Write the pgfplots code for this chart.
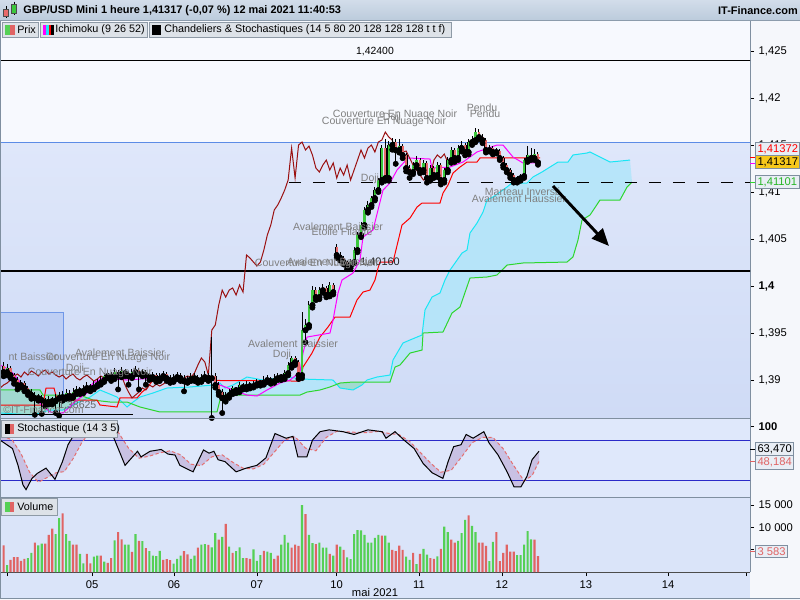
\documentclass[border=0pt]{standalone}
\usepackage{pgfplots}
\pgfplotsset{compat=1.18}
\usepackage{pgfplotstable}
\usetikzlibrary{arrows.meta}
\usepackage{fontspec}
\setmainfont{Liberation Sans}
\definecolor{hdrTop}{HTML}{D2DDEA}
\definecolor{hdrBot}{HTML}{BCCBDC}
\definecolor{hdrLine}{HTML}{8C9CAC}
\definecolor{lgFill}{HTML}{DDE2E8}
\definecolor{lgEdge}{HTML}{8E9AA6}
\definecolor{priceW}{HTML}{F7F9FE}
\definecolor{pTop}{HTML}{DFE7FA}
\definecolor{pBot}{HTML}{CFDBF6}
\definecolor{boxblue}{HTML}{BDCEF4}
\definecolor{boxedge}{HTML}{6F97E8}
\definecolor{stochbg}{HTML}{DFE8FB}
\definecolor{volbg}{HTML}{DAE4F9}
\definecolor{rightbg}{HTML}{F5F7FB}
\definecolor{axisgray}{HTML}{7F8FA0}
\definecolor{candG}{HTML}{3CC83C}
\definecolor{candR}{HTML}{E86A6A}
\definecolor{volG}{HTML}{55D055}
\definecolor{volR}{HTML}{E06464}
\definecolor{tenkan}{HTML}{FF00FF}
\definecolor{kijun}{HTML}{FF0000}
\definecolor{chik}{HTML}{9A1010}
\definecolor{ssa}{HTML}{19E6F5}
\definecolor{ssb}{HTML}{2ED62E}
\definecolor{cloudC}{HTML}{B4E5FA}
\definecolor{cloudG}{HTML}{9FD9CC}
\definecolor{stLine}{HTML}{2B2BC8}
\definecolor{stFill}{HTML}{C9C1E3}
\definecolor{stDc}{HTML}{E56F6F}
\definecolor{annot}{HTML}{808080}
\definecolor{gold}{HTML}{F7C81B}
\definecolor{lblFill}{HTML}{E9EEF5}
\definecolor{refblue}{HTML}{5C8CE6}
\newcommand{\ticksz}{\fontsize{8.4}{10}\selectfont}
\newcommand{\lgsz}{\fontsize{8.1}{9.5}\selectfont}
\newcommand{\ansz}{\fontsize{7.9}{9}\selectfont}

\pgfplotstableread{
i o h l c v g
0 1.39149 1.39190 1.39040 1.39085 5983 0
1 1.39085 1.39170 1.39050 1.39128 1554 1
2 1.39128 1.39150 1.39020 1.39053 2720 0
3 1.39053 1.39080 1.38960 1.39000 3341 0
4 1.39000 1.39030 1.38900 1.38947 3341 0
5 1.38947 1.39000 1.38920 1.38968 2486 0
6 1.38968 1.38990 1.38880 1.38915 2953 0
7 1.38915 1.38940 1.38840 1.38872 3108 1
8 1.38872 1.38900 1.38800 1.38840 4274 1
9 1.38840 1.38870 1.38630 1.38809 6605 0
10 1.38809 1.38850 1.38780 1.38819 5983 1
11 1.38819 1.38840 1.38640 1.38787 6371 1
12 1.38787 1.38810 1.38720 1.38766 6371 0
13 1.38766 1.38830 1.38740 1.38798 8314 0
14 1.38798 1.38820 1.38740 1.38777 9713 0
15 1.38777 1.38850 1.38650 1.38809 8469 1
16 1.38809 1.38870 1.38620 1.38840 12044 1
17 1.38840 1.38880 1.38780 1.38819 13131 0
18 1.38819 1.38900 1.38800 1.38862 8469 1
19 1.38862 1.38890 1.38800 1.38830 6993 1
20 1.38830 1.38910 1.38810 1.38872 6138 0
21 1.38872 1.38940 1.38850 1.38904 6138 0
22 1.38904 1.38930 1.38850 1.38883 4040 1
23 1.38883 1.38950 1.38860 1.38915 1943 1
24 1.38915 1.38980 1.38890 1.38936 4040 0
25 1.38936 1.38960 1.38880 1.38915 1943 0
26 1.38915 1.38990 1.38900 1.38947 3419 1
27 1.38947 1.39010 1.38930 1.38968 3652 1
28 1.38968 1.39040 1.38950 1.39000 3652 0
29 1.39000 1.39080 1.38980 1.39043 2331 1
30 1.39043 1.39110 1.39020 1.39064 2020 0
31 1.39064 1.39090 1.38990 1.39032 3108 0
32 1.39032 1.39130 1.39010 1.39085 7071 1
33 1.39085 1.39110 1.38900 1.39053 8936 0
34 1.39053 1.39140 1.39030 1.39096 7304 0
35 1.39096 1.39120 1.39040 1.39074 6138 1
36 1.39074 1.39100 1.38950 1.39043 6138 1
37 1.39043 1.39120 1.39020 1.39085 4507 0
38 1.39085 1.39150 1.39060 1.39106 8469 1
39 1.39106 1.39130 1.38900 1.39064 6993 0
40 1.39064 1.39120 1.39040 1.39085 6915 1
41 1.39085 1.39110 1.38950 1.39053 5361 0
42 1.39053 1.39080 1.39000 1.39032 4662 1
43 1.39032 1.39090 1.39010 1.39053 3652 1
44 1.39053 1.39080 1.38980 1.39011 3574 1
45 1.39011 1.39070 1.38990 1.39043 4740 1
46 1.39043 1.39100 1.39020 1.39064 2720 0
47 1.39064 1.39090 1.38990 1.39021 2875 0
48 1.39021 1.39050 1.38970 1.39000 2642 0
49 1.39000 1.39060 1.38980 1.39032 1865 1
50 1.39032 1.39090 1.39010 1.39053 2953 1
51 1.39053 1.39080 1.38990 1.39021 3652 1
52 1.39021 1.39050 1.38880 1.38989 4662 0
53 1.38989 1.39040 1.38970 1.39011 3963 0
54 1.39011 1.39070 1.38990 1.39043 2953 1
55 1.39043 1.39070 1.38990 1.39021 3652 1
56 1.39021 1.39050 1.38970 1.39000 5439 0
57 1.39000 1.39060 1.38980 1.39032 6138 1
58 1.39032 1.39100 1.39010 1.39053 6216 1
59 1.39053 1.39080 1.38990 1.39021 6061 0
60 1.39021 1.39457 1.38596 1.39043 5517 1
61 1.39043 1.39070 1.38920 1.38947 8702 1
62 1.38947 1.38980 1.38840 1.38872 7226 0
63 1.38872 1.38900 1.38649 1.38809 7848 1
64 1.38809 1.38870 1.38770 1.38840 10800 0
65 1.38840 1.38900 1.38810 1.38872 5672 1
66 1.38872 1.38940 1.38850 1.38915 4274 0
67 1.38915 1.38930 1.38860 1.38894 4662 1
68 1.38894 1.38980 1.38870 1.38947 5517 1
69 1.38947 1.38970 1.38900 1.38926 3108 1
70 1.38926 1.38990 1.38900 1.38957 3108 0
71 1.38957 1.38980 1.38910 1.38936 2953 0
72 1.38936 1.38990 1.38920 1.38957 5051 1
73 1.38957 1.39010 1.38940 1.38979 2486 1
74 1.38979 1.39000 1.38940 1.38968 3807 1
75 1.38968 1.39040 1.38950 1.39000 4740 0
76 1.39000 1.39050 1.38980 1.39011 4584 1
77 1.39011 1.39030 1.38960 1.38989 4274 1
78 1.38989 1.39060 1.38970 1.39021 2953 0
79 1.39021 1.39080 1.39000 1.39043 3652 0
80 1.39043 1.39060 1.39000 1.39032 6138 1
81 1.39032 1.39110 1.39010 1.39074 8314 1
82 1.39074 1.39190 1.39050 1.39160 6605 1
83 1.39160 1.39260 1.39130 1.39234 5439 0
84 1.39234 1.39260 1.39160 1.39191 6138 0
85 1.39191 1.39210 1.39011 1.39053 5828 0
86 1.39053 1.39723 1.39020 1.39532 14996 1
87 1.39532 1.39650 1.39400 1.39585 12976 0
88 1.39585 1.39840 1.39560 1.39798 8314 1
89 1.39798 1.40000 1.39770 1.39957 6449 1
90 1.39957 1.39990 1.39850 1.39883 6216 0
91 1.39883 1.39990 1.39860 1.39957 6605 1
92 1.39957 1.40020 1.39930 1.39979 5439 1
93 1.39979 1.40000 1.39880 1.39904 5439 1
94 1.39904 1.40040 1.39890 1.40011 4040 0
95 1.40011 1.40030 1.39910 1.39936 3652 1
96 1.40415 1.40450 1.40300 1.40330 6138 0
97 1.40330 1.40360 1.40270 1.40298 5672 1
98 1.40298 1.40320 1.40230 1.40255 4973 0
99 1.40255 1.40270 1.40180 1.40213 3263 1
100 1.40213 1.40290 1.40190 1.40255 2875 1
101 1.40255 1.40410 1.40240 1.40383 8469 1
102 1.40383 1.40570 1.40360 1.40543 9402 1
103 1.40543 1.40680 1.40520 1.40649 9324 1
104 1.40649 1.40840 1.40620 1.40809 8314 1
105 1.40809 1.40900 1.40780 1.40862 6605 1
106 1.40862 1.40960 1.40840 1.40936 6605 1
107 1.40936 1.41050 1.40910 1.41021 7615 1
108 1.41021 1.41150 1.41000 1.41128 8314 1
109 1.41128 1.41500 1.41100 1.41468 8159 0
110 1.41468 1.41560 1.41120 1.41149 8159 1
111 1.41149 1.41540 1.41120 1.41500 6605 1
112 1.41500 1.41580 1.41450 1.41532 4973 0
113 1.41532 1.41560 1.41300 1.41447 4662 0
114 1.41447 1.41560 1.41420 1.41489 5905 0
115 1.41489 1.41510 1.41360 1.41394 4973 0
116 1.41394 1.41420 1.41220 1.41255 3419 1
117 1.41255 1.41290 1.41150 1.41213 2720 1
118 1.41213 1.41320 1.41190 1.41287 4274 0
119 1.41287 1.41380 1.41260 1.41340 1787 1
120 1.41340 1.41360 1.41200 1.41234 4040 0
121 1.41234 1.41340 1.41210 1.41309 5206 1
122 1.41309 1.41330 1.41100 1.41149 3885 1
123 1.41149 1.41290 1.41120 1.41255 3108 0
124 1.41255 1.41280 1.41150 1.41181 2953 0
125 1.41181 1.41320 1.41160 1.41287 3497 1
126 1.41287 1.41310 1.41080 1.41128 5206 0
127 1.41128 1.41260 1.41100 1.41234 10179 1
128 1.41234 1.41370 1.41210 1.41340 8936 1
129 1.41340 1.41480 1.41310 1.41447 7226 0
130 1.41447 1.41470 1.41320 1.41362 6605 0
131 1.41362 1.41500 1.41340 1.41468 6993 1
132 1.41468 1.41540 1.41430 1.41500 8702 1
133 1.41500 1.41520 1.41390 1.41426 11655 1
134 1.41426 1.41560 1.41400 1.41532 12665 0
135 1.41532 1.41600 1.41500 1.41553 10334 1
136 1.41553 1.41680 1.41530 1.41638 8936 1
137 1.41638 1.41670 1.41560 1.41585 6605 0
138 1.41585 1.41620 1.41520 1.41553 6605 0
139 1.41553 1.41580 1.41420 1.41447 5828 0
140 1.41447 1.41500 1.41430 1.41468 2409 1
141 1.41468 1.41490 1.41400 1.41426 6760 1
142 1.41426 1.41470 1.41410 1.41436 8936 0
143 1.41436 1.41460 1.41340 1.41362 2409 0
144 1.41362 1.41380 1.41260 1.41287 4274 0
145 1.41287 1.41310 1.41210 1.41234 6138 0
146 1.41234 1.41260 1.41150 1.41181 4584 0
147 1.41181 1.41200 1.41100 1.41128 4584 0
148 1.41128 1.41170 1.41100 1.41149 3807 1
149 1.41149 1.41190 1.41120 1.41170 3807 1
150 1.41170 1.41360 1.41150 1.41340 6138 1
151 1.41340 1.41490 1.41320 1.41394 9169 1
152 1.41394 1.41470 1.41340 1.41362 7304 1
153 1.41362 1.41460 1.41340 1.41404 7226 0
154 1.41404 1.41430 1.41290 1.41317 3583 0
}\candles

\pgfplotstableread{
x y
-1.04 1.39160
1.84 1.39106
8.43 1.38819
13.37 1.38660
17.12 1.38649
21.15 1.38787
24.03 1.38862
25.76 1.38968
28.65 1.39021
35.57 1.39000
43.06 1.39021
52.86 1.39000
59.48 1.39021
62.36 1.38947
66.11 1.38894
70.14 1.38840
73.03 1.38830
75.91 1.38894
79.65 1.38968
82.54 1.39000
85.42 1.39085
86.28 1.39287
87.44 1.39457
94.06 1.39500
94.93 1.39638
96.37 1.39926
97.52 1.40064
100.69 1.40138
102.71 1.40277
103.57 1.40521
106.46 1.40596
107.90 1.40809
109.34 1.41021
111.35 1.41096
113.37 1.41234
116.54 1.41362
122.88 1.41351
123.46 1.41255
128.65 1.41266
132.39 1.41319
136.43 1.41426
142.19 1.41500
143.92 1.41500
146.80 1.41372
149.68 1.41309
154.58 1.41309
}\tenkanT

\pgfplotstableread{
x y
-1.04 1.38734
11.35 1.38734
12.22 1.38915
14.53 1.38915
15.39 1.38787
26.92 1.38787
27.78 1.38734
32.68 1.38713
33.54 1.38809
38.44 1.38809
39.89 1.38872
41.33 1.38915
43.06 1.39000
85.42 1.38989
86.28 1.39138
88.88 1.39287
91.18 1.39457
93.49 1.39564
95.51 1.39670
99.83 1.39670
101.84 1.39851
103.57 1.39936
105.59 1.39957
107.03 1.40064
107.90 1.40191
108.47 1.40255
112.22 1.40255
114.81 1.40649
117.12 1.40723
119.14 1.40840
120.58 1.40883
125.76 1.40883
126.63 1.40989
128.07 1.41074
129.51 1.41202
131.53 1.41266
133.55 1.41319
136.43 1.41319
137.29 1.41362
154.58 1.41362
}\kijunT

% cloud outline: Senkou A (rows 0-62, forward) then Senkou B (rows 63-103, backward)
\pgfplotstableread{
x y
-1.04 1.38649
8.47 1.38628
13.37 1.38681
17.12 1.38681
21.15 1.38755
24.90 1.38819
27.78 1.38894
32.68 1.38819
35.57 1.38713
37.29 1.38766
39.31 1.38819
43.06 1.38862
47.09 1.38915
53.72 1.38926
60.35 1.38947
62.36 1.38968
63.80 1.38915
66.11 1.38947
70.14 1.39032
74.75 1.39000
78.79 1.39021
82.54 1.39032
85.42 1.39011
94.93 1.39000
96.95 1.38915
100.69 1.38894
103.28 1.38947
104.72 1.39000
107.61 1.39032
111.35 1.39053
112.22 1.39213
115.10 1.39394
117.12 1.39426
120.58 1.39479
121.44 1.39745
123.46 1.39883
125.76 1.39926
127.20 1.40064
128.65 1.40170
130.09 1.40245
132.11 1.40351
133.55 1.40383
134.41 1.40564
136.43 1.40670
138.16 1.40787
139.31 1.40915
141.04 1.40947
143.05 1.41000
145.07 1.41053
146.80 1.41106
148.82 1.41096
150.84 1.41096
152.56 1.41160
155.16 1.41213
157.46 1.41266
159.77 1.41319
162.65 1.41319
164.09 1.41394
168.13 1.41415
168.99 1.41426
171.87 1.41372
174.76 1.41319
180.52 1.41340
181.10 1.41106
179.66 1.41053
177.64 1.40915
171.87 1.40915
168.99 1.40755
166.69 1.40702
165.53 1.40489
164.09 1.40309
162.36 1.40255
149.68 1.40245
145.07 1.40223
142.19 1.40117
139.31 1.40096
134.41 1.40085
131.53 1.39777
129.22 1.39713
126.63 1.39511
120.87 1.39500
120.58 1.39319
117.12 1.39287
114.24 1.39160
112.80 1.39138
111.35 1.38979
100.69 1.38979
96.95 1.38968
94.06 1.38926
91.18 1.38894
87.44 1.38872
85.42 1.38840
62.94 1.38840
62.36 1.38787
61.50 1.38660
45.07 1.38660
39.31 1.38713
35.57 1.38766
30.66 1.38766
25.76 1.38787
22.02 1.38840
11.35 1.38840
10.49 1.38894
-1.04 1.38894
}\cloudT

\pgfplotstableread{
x y
-1.04 1.38649
8.47 1.38628
13.37 1.38681
17.12 1.38681
21.15 1.38755
24.26 1.38808
22.02 1.38840
11.35 1.38840
10.49 1.38894
-1.04 1.38894
}\cloudGa

\pgfplotstableread{
x y
96.02 1.38954
96.95 1.38915
100.69 1.38894
103.28 1.38947
104.15 1.38979
100.69 1.38979
96.95 1.38968
}\cloudGb

% stochastic: %K (rows 0-65, forward) then %D (rows 66-118, backward)
\pgfplotstableread{
x y
-1.04 80.0
2.56 67.4
4.15 42.3
5.59 13.0
6.46 6.0
8.18 22.8
9.77 30.5
12.22 38.1
14.81 21.4
16.97 47.9
18.56 73.0
20.0 85.6
23.4 99.5
29.2 99.5
31.8 82.8
35.0 42.3
38.6 63.3
39.6 54.9
42.2 63.3
45.4 66.0
47.4 59.1
49.4 57.7
50.8 42.3
54.6 32.6
57.6 65.3
59.2 60.5
60.6 63.3
61.8 50.7
63.8 47.9
67.0 32.6
69.9 38.1
73.0 42.3
75.6 53.5
78.2 89.8
81.4 82.8
83.4 85.6
84.8 54.9
87.4 54.9
89.0 80.0
91.2 92.6
93.8 95.3
97.8 92.6
101.0 88.4
105.0 95.3
109.1 92.6
110.2 82.8
112.8 92.6
115.4 80.0
118.3 67.4
120.9 45.1
123.5 31.2
126.6 22.8
128.1 47.9
129.7 70.2
131.8 73.0
133.3 88.4
135.3 82.8
138.4 92.6
139.9 75.8
142.5 57.7
145.1 32.6
147.1 10.2
149.1 10.2
150.8 25.6
152.3 50.7
154.3 63.47
154.3 48.18
152.3 27
150 19
147 42
144 67
141 84
138 84
135 76
132 55
129 35
126 32
123 46
120 62
117 78
114 88
111 90
108 93
104 91
100 92
96 93
93 84
90 64
87 68
84 85
81 80
78 62
75 44
72 37
69 38
66 47
63 58
60 55
57 42
54 44
51 58
48 64
45 61
42 56
39 53
36 68
33 92
30 99
25 93
22.5 76
20 52
17.5 33
15 31
12.5 24
10 17
7.5 32
5 60
2.5 80
-1.04 88
}\stochT

\pgfplotsset{
  panel/.style={
    anchor=south west, scale only axis, width=562.5pt,
    xmin=-1.04, xmax=215.1, enlargelimits=false, clip=true,
    axis line style={-}, tick align=outside, major tick length=3pt,
    tick style={black, line width=0.5pt},
    tick label style={font=\ticksz, black},
  },
  wick/.style={only marks, mark=none, forget plot,
    error bars/.cd, y dir=plus, y explicit, error mark=none,
    error bar style={black, solid, line width=0.75pt}},
}
\tikzset{vbox/.style={draw=axisgray, line width=0.75pt, fill=lblFill, anchor=west,
   inner xsep=1.5pt, inner ysep=1.6pt, font=\ticksz}}

\begin{document}
\begin{tikzpicture}
\begin{scope}[x=0.75pt,y=-0.75pt]
\fill[rightbg] (0,0) rectangle (800,600);
\fill[priceW] (0,20) rectangle (750,142);
\shade[top color=pTop, bottom color=pBot] (0,142) rectangle (750,418);
\fill[boxblue] (0,312) rectangle (63,410);
\draw[boxedge, line width=0.75pt] (0,312) -- (63,312) -- (63,410);
\fill[stochbg] (0,418) rectangle (750,497);
\fill[volbg] (0,497) rectangle (750,599);
\end{scope}

% ---------------- price panel
\begin{axis}[panel, at={(0pt,-313.5pt)}, height=298.5pt,
  ymin=1.38596, ymax=1.42830,
  axis x line=none, axis y line*=right,
  y axis line style={draw=axisgray, line width=0.75pt},
  xtick=\empty,
  ytick={1.39,1.395,1.4,1.405,1.41,1.415,1.42,1.425},
  yticklabels={{1,39},{1,395},{\textbf{1,4}},{1,405},{1,41},{1,415},{1,42},{1,425}},
]
% cloud
\addplot[fill=cloudC, draw=none, fill opacity=0.92, forget plot] table {\cloudT};
\addplot[fill=cloudG, draw=none, fill opacity=0.9, forget plot] table {\cloudGa};
\addplot[fill=cloudG, draw=none, fill opacity=0.9, forget plot] table {\cloudGb};
\addplot[ssa, line width=0.75pt, restrict expr to domain={\coordindex}{0:62}] table {\cloudT};
\addplot[ssb, line width=0.75pt, restrict expr to domain={\coordindex}{63:200}] table {\cloudT};
% reference lines
\addplot[black, line width=1pt] coordinates {(-2,1.42400) (216,1.42400)};
\addplot[black, line width=1pt] coordinates {(-2,1.40160) (216,1.40160)};
\addplot[refblue, line width=0.75pt] coordinates {(-2,1.41532) (216,1.41532)};
\addplot[black, line width=0.9pt, dash pattern=on 9pt off 9pt] coordinates {(82.2,1.41101) (216,1.41101)};
\addplot[black, line width=0.75pt] coordinates {(-2,1.38628) (37.3,1.38628)};
% ichimoku lines
\addplot[kijun, line width=0.75pt] table {\kijunT};
\addplot[tenkan, line width=0.75pt] table {\tenkanT};
\addplot[chik, line width=0.75pt] table[x expr=\thisrow{i}-26, y=c] {\candles};
% candles
\addplot[wick] table[x=i, y=l, y error plus expr={\thisrow{h}-\thisrow{l}}] {\candles};
\addplot[only marks, mark=none, forget plot,
  error bars/.cd, y dir=plus, y explicit, error mark=none,
  error bar style={black, solid, line width=2.2pt}]
  table[x=i, y expr={min(\thisrow{o},\thisrow{c})-0.00004},
        y error plus expr={abs(\thisrow{c}-\thisrow{o})+0.00008}] {\candles};
\addplot[only marks, mark=none, forget plot,
  restrict expr to domain={\thisrow{c}-\thisrow{o}}{0.000001:1},
  error bars/.cd, y dir=plus, y explicit, error mark=none,
  error bar style={candG, solid, line width=1.6pt}]
  table[x=i, y=o, y error plus expr={\thisrow{c}-\thisrow{o}}] {\candles};
\addplot[only marks, mark=none, forget plot,
  restrict expr to domain={\thisrow{o}-\thisrow{c}}{0.000001:1},
  error bars/.cd, y dir=plus, y explicit, error mark=none,
  error bar style={candR, solid, line width=1.6pt}]
  table[x=i, y=c, y error plus expr={\thisrow{o}-\thisrow{c}}] {\candles};
\end{axis}

% ---------------- stochastic panel
\begin{axis}[panel, at={(0pt,-372.75pt)}, height=59.25pt,
  ymin=-5, ymax=113,
  axis x line=none, axis y line*=right,
  y axis line style={draw=axisgray, line width=0.75pt},
  xtick=\empty, ytick={100}, yticklabels={\textbf{100}},
]
\addplot[fill=stFill, draw=none, forget plot] table {\stochT};
\addplot[stLine, line width=0.75pt] coordinates {(-2,80) (216,80)};
\addplot[stLine, line width=0.75pt] coordinates {(-2,20) (216,20)};
\addplot[stDc, line width=0.75pt, dash pattern=on 2.5pt off 1.8pt,
  restrict expr to domain={\coordindex}{66:200}] table {\stochT};
\addplot[black, line width=0.75pt,
  restrict expr to domain={\coordindex}{0:65}] table {\stochT};
\end{axis}

% ---------------- volume panel
\begin{axis}[panel, at={(0pt,-429pt)}, height=56.25pt,
  ymin=0, ymax=16790, scaled y ticks=false,
  axis x line*=bottom, axis y line*=right,
  x axis line style={draw=black!70, line width=0.75pt},
  y axis line style={draw=axisgray, line width=0.75pt},
  xtick={1,25.5,49.1,73,96,119.7,143.6,167.8,191.5,214},
  xticklabels={,05,06,07,10,11,12,13,14,},
  ytick={5000,10000,15000}, yticklabels={5 000,10 000,15 000},
]
\addplot[ybar, bar width=1.6pt, bar shift=0pt, fill=volG, draw=none,
  restrict expr to domain={\thisrow{g}}{0.5:1.5}] table[x=i, y=v] {\candles};
\addplot[ybar, bar width=1.6pt, bar shift=0pt, fill=volR, draw=none,
  restrict expr to domain={\thisrow{g}}{-0.5:0.5}] table[x=i, y=v] {\candles};
\end{axis}

% ---------------- overlays
\begin{scope}[x=0.75pt,y=-0.75pt]
\draw[axisgray, line width=0.75pt] (0,418) -- (750,418);
\draw[axisgray, line width=0.75pt] (0,497) -- (750,497);
\draw[axisgray, line width=0.75pt] (0.5,20) -- (0.5,598.5) -- (800,598.5);
% header
\shade[top color=hdrTop, bottom color=hdrBot] (0,0) rectangle (800,20);
\draw[hdrLine, line width=0.75pt] (0,20) -- (800,20);
\draw[black, line width=0.6pt] (6,6) -- (6,18);
\filldraw[fill=candR, draw=black!70, line width=0.5pt] (3.5,9) rectangle (8.5,16);
\draw[black, line width=0.6pt] (14,1.5) -- (14,15);
\filldraw[fill=candG, draw=black!70, line width=0.5pt] (11.5,4) rectangle (16.5,13);
\node[anchor=west, inner sep=0, font=\fontsize{8.2}{10}\selectfont\bfseries] at (23,11) {GBP/USD Mini 1 heure 1,41317 (-0,07 \%) 12 mai 2021 11:40:53};
\node[anchor=east, inner sep=0, font=\fontsize{8.2}{10}\selectfont\bfseries] at (798,11) {IT-Finance.com};
% legend row
\filldraw[fill=lgFill, draw=lgEdge, line width=0.75pt] (2,22.5) rectangle (38,37.5);
\fill[volG] (5,25) rectangle (10,35); \fill[volR] (10,25) rectangle (15,35);
\node[anchor=west, inner sep=0, font=\lgsz] at (17,30) {Prix};
\filldraw[fill=lgFill, draw=lgEdge, line width=0.75pt] (40,22.5) rectangle (147,37.5);
\fill[tenkan] (43,25) rectangle (46,35); \fill[ssa] (46,25) rectangle (48.5,35);
\fill[kijun] (48.5,25) rectangle (51,35); \fill[black] (51,25) rectangle (53.5,35);
\node[anchor=west, inner sep=0, font=\lgsz] at (55,30) {Ichimoku (9 26 52)};
\filldraw[fill=lgFill, draw=lgEdge, line width=0.75pt] (149,22.5) rectangle (451,37.5);
\fill[black] (152,25) rectangle (161,35);
\node[anchor=west, inner sep=0, font=\lgsz] at (164,30) {Chandeliers \& Stochastiques (14 5 80 20 128 128 128 t t f)};
% stoch & volume labels
\filldraw[fill=lgFill, draw=lgEdge, line width=0.75pt] (1.5,420.5) rectangle (117,437.5);
\fill[black] (5,424) rectangle (9.5,434); \fill[volR] (9.5,424) rectangle (14,434);
\node[anchor=west, inner sep=0, font=\lgsz] at (17,429) {Stochastique (14 3 5)};
\filldraw[fill=lgFill, draw=lgEdge, line width=0.75pt] (1.5,498.5) rectangle (57,515.5);
\fill[volG] (5,502) rectangle (9.5,512); \fill[volR] (9.5,502) rectangle (14,512);
\node[anchor=west, inner sep=0, font=\lgsz] at (17,507) {Volume};
% reference labels
\node[inner sep=0, font=\fontsize{7.8}{9}\selectfont] at (375,52) {1,42400};
\node[anchor=west, inner sep=0, font=\fontsize{8.2}{9}\selectfont, black!85] at (360,262) {1,40160};
\node[anchor=west, inner sep=0, font=\ansz, black!60] at (58,405) {1,38625};
\node[anchor=west, inner sep=0, font=\ansz, annot] at (3,410) {\textcopyright IT-Finance.com};
% pattern annotations
\begin{scope}[every node/.style={inner sep=0, font=\ansz, text=annot}]
\node at (395,115) {Couverture En Nuage Noir};
\node at (384,122) {Couverture En Nuage Noir};
\node at (392,118) {Doji};
\node at (482,108) {Pendu};
\node at (485,114) {Pendu};
\node at (370,179) {Doji};
\node at (523,192) {Marteau Inversé};
\node at (519,199) {Avalement Haussier};
\node at (338,227) {Avalement Baissier};
\node at (342,232) {Etoile Filante};
\node at (332,262) {Avalement Baissier};
\node at (317,264) {Couverture En Nuage Noir};
\node[anchor=east] at (58,357) {nt Baissier};
\node at (108,358) {Couverture En Nuage Noir};
\node at (120,353) {Avalement Baissier};
\node at (90,373) {Couverture En Nuage Noir};
\node at (75,369) {Doji};
\node at (293,344) {Avalement Baissier};
\node at (282,355) {Doji};
\end{scope}
% arrow
\draw[black, line width=2.2pt, -{Triangle[length=13pt,width=11pt]}] (553,186) -- (609,246);
% right value boxes
\draw[kijun, line width=0.75pt] (750,157.5) -- (755,157.5);
\draw[tenkan, line width=0.75pt] (750,163) -- (755,163);
\draw[ssb, line width=0.75pt] (750,182) -- (755,182);
\node[vbox, text=kijun] at (755,149) {1,41372};
\node[vbox, fill=gold] at (755,162) {1,41317};
\node[vbox, text=ssb!85!black] at (755,182) {1,41101};
\draw[black, line width=0.75pt] (750,449.5) -- (755,449.5);
\draw[volR, line width=0.75pt] (750,461.5) -- (755,461.5);
\node[vbox] at (755,449.5) {63,470};
\node[vbox, text=volR] at (755,462.5) {48,184};
\draw[volR, line width=0.75pt] (750,551.5) -- (755,551.5);
\node[vbox, text=volR] at (755,551.5) {3 583};
% month label
\node[inner sep=0, font=\ticksz] at (375,592) {mai 2021};
\end{scope}
\pgfresetboundingbox
\path[use as bounding box] (0,0) rectangle (600pt,-450pt);
\end{tikzpicture}
\end{document}
